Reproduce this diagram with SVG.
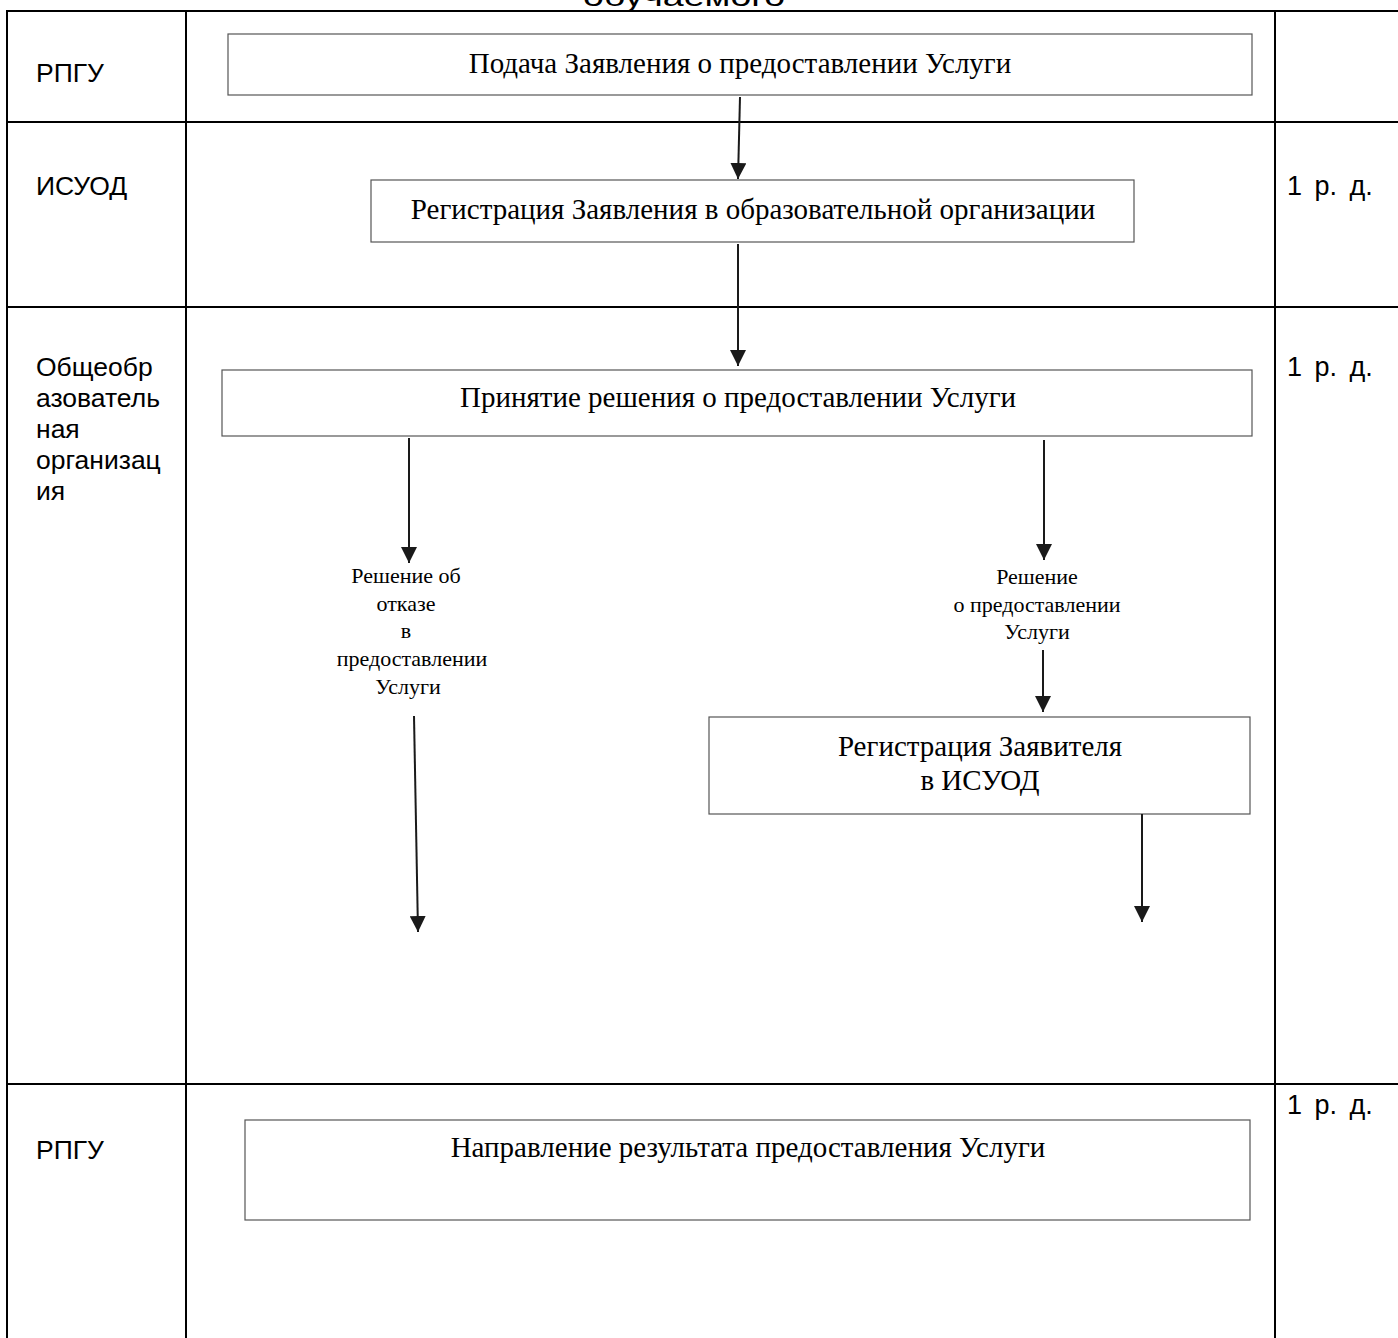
<svg xmlns="http://www.w3.org/2000/svg" width="1398" height="1338" viewBox="0 0 1398 1338">
<defs>
<style>
.grid{stroke:#000;stroke-width:2;fill:none}
.box{fill:#fff;stroke:#555;stroke-width:1.2}
.lane{font-family:"Liberation Sans",Arial,sans-serif;font-size:26.5px;fill:#000}
.days{font-family:"Liberation Sans",Arial,sans-serif;font-size:27px;fill:#000;word-spacing:5px}
.bt{font-family:"Liberation Serif","Times New Roman",serif;font-size:29px;fill:#000;text-anchor:middle}
.lbl{font-family:"Liberation Serif","Times New Roman",serif;font-size:22px;fill:#000;text-anchor:middle}
.con{stroke:#1a1a1a;stroke-width:2;fill:none}
</style>
<marker id="ah" viewBox="0 0 16 16" refX="16" refY="8" markerWidth="16" markerHeight="16" markerUnits="userSpaceOnUse" orient="auto">
<path d="M0,0 L16,8 L0,16 Z" fill="#1a1a1a"/>
</marker>
</defs>
<rect width="1398" height="1338" fill="#fff"/>
<text x="684" y="6" text-anchor="middle" font-family="Liberation Sans, Arial, sans-serif" font-size="28" textLength="202" lengthAdjust="spacingAndGlyphs">обучаемого</text>
<g id="table">
<line class="grid" x1="6" y1="11" x2="1398" y2="11"/>
<line class="grid" x1="6" y1="122" x2="1398" y2="122"/>
<line class="grid" x1="6" y1="307" x2="1398" y2="307"/>
<line class="grid" x1="6" y1="1084" x2="1398" y2="1084"/>
<line class="grid" x1="7" y1="11" x2="7" y2="1338"/>
<line class="grid" x1="186" y1="11" x2="186" y2="1338"/>
<line class="grid" x1="1275" y1="11" x2="1275" y2="1338"/>
</g>
<g id="lanes">
<text class="lane" x="36" y="82">РПГУ</text>
<text class="lane" x="36" y="195">ИСУОД</text>
<text class="lane" x="36" y="376">Общеобр</text>
<text class="lane" x="36" y="407">азователь</text>
<text class="lane" x="36" y="438">ная</text>
<text class="lane" x="36" y="469">организац</text>
<text class="lane" x="36" y="500">ия</text>
<text class="lane" x="36" y="1159">РПГУ</text>
<text class="days" x="1287" y="195">1 р. д.</text>
<text class="days" x="1287" y="376">1 р. д.</text>
<text class="days" x="1287" y="1114">1 р. д.</text>
</g>
<g id="n1">
<rect class="box" x="228" y="34" width="1024" height="61"/>
<text class="bt" x="740" y="73">Подача Заявления о предоставлении Услуги</text>
</g>
<g id="n2">
<rect class="box" x="371" y="180" width="763" height="62"/>
<text class="bt" x="753" y="219">Регистрация Заявления в образовательной организации</text>
</g>
<g id="n3">
<rect class="box" x="222" y="370" width="1030" height="66"/>
<text class="bt" x="738" y="407">Принятие решения о предоставлении Услуги</text>
</g>
<g id="n4">
<rect class="box" x="709" y="717" width="541" height="97"/>
<text class="bt" x="980" y="756" font-size="32">Регистрация Заявителя</text>
<text class="bt" x="980" y="790" font-size="32">в ИСУОД</text>
</g>
<g id="n5">
<rect class="box" x="245" y="1120" width="1005" height="100"/>
<text class="bt" x="748" y="1157">Направление результата предоставления Услуги</text>
</g>
<g id="labels">
<text class="lbl" x="406" y="583">Решение об</text>
<text class="lbl" x="406" y="611">отказе</text>
<text class="lbl" x="406" y="638">в</text>
<text class="lbl" x="412" y="666">предоставлении</text>
<text class="lbl" x="408" y="694">Услуги</text>
<text class="lbl" x="1037" y="584">Решение</text>
<text class="lbl" x="1037" y="612">о предоставлении</text>
<text class="lbl" x="1037" y="639">Услуги</text>
</g>
<g id="connectors">
<line class="con" x1="740" y1="97" x2="738" y2="179" marker-end="url(#ah)"/>
<line class="con" x1="738" y1="244" x2="738" y2="366" marker-end="url(#ah)"/>
<line class="con" x1="409" y1="438" x2="409" y2="563" marker-end="url(#ah)"/>
<line class="con" x1="1044" y1="440" x2="1044" y2="560" marker-end="url(#ah)"/>
<line class="con" x1="1043" y1="650" x2="1043" y2="712" marker-end="url(#ah)"/>
<line class="con" x1="414" y1="716" x2="418" y2="932" marker-end="url(#ah)"/>
<line class="con" x1="1142" y1="814" x2="1142" y2="922" marker-end="url(#ah)"/>
</g>
</svg>
